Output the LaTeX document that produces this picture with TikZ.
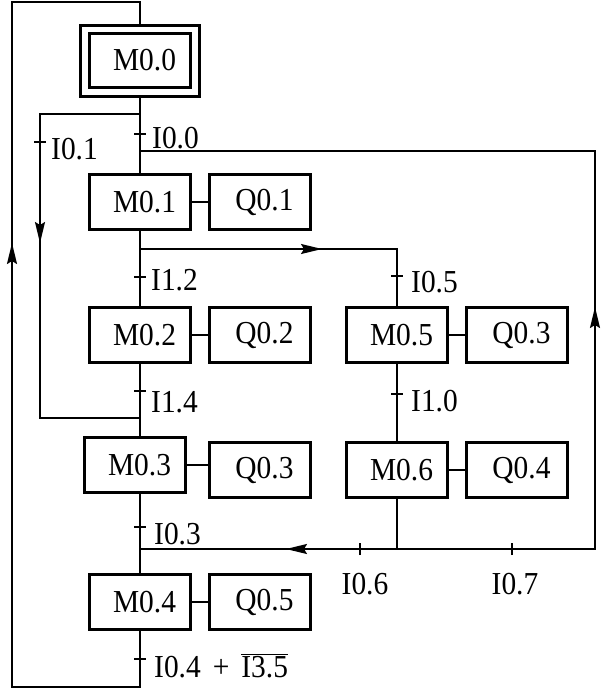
\documentclass[tikz,border=0pt]{standalone}
\usepackage{fontspec}
\setmainfont[FakeStretch=0.92]{Liberation Serif}
\usetikzlibrary{arrows.meta}
\begin{document}
\begin{tikzpicture}[x=1pt,y=-1pt,
  box/.style={draw,line width=3.2pt,minimum width=101pt,minimum height=55pt,inner sep=0pt,font=\fontsize{32}{33}\selectfont,execute at begin node=\hspace*{9pt}},
  wire/.style={line width=1.8pt},
  lbl/.style={inner sep=0pt,font=\fontsize{32}{33}\selectfont},
  arr/.style={line width=1.8pt,-{Stealth[length=21pt,width=10pt,inset=3pt]}},
  tk/.style={line width=1.8pt}
]
\useasboundingbox (0,0) rectangle (607,689);
% boxes
\node[box,minimum width=119pt,minimum height=71pt,execute at begin node={}] (M00o) at (140,61) {};
\node[box,minimum height=54pt] (M00) at (140,60.5) {M0.0};
\node[box] (M01) at (140,202) {M0.1};
\node[box] (Q01) at (260,202) {Q0.1};
\node[box] (M02) at (140,335) {M0.2};
\node[box] (Q02) at (260,335) {Q0.2};
\node[box] (M03) at (135,465) {M0.3};
\node[box] (Q03b) at (260,470) {Q0.3};
\node[box] (M04) at (140,602) {M0.4};
\node[box] (Q05) at (260,602) {Q0.5};
\node[box] (M05) at (397,335) {M0.5};
\node[box] (Q03a) at (517,335) {Q0.3};
\node[box] (M06) at (397,470) {M0.6};
\node[box] (Q04) at (517,470) {Q0.4};
% junction coordinates
\coordinate (top) at (140,2);
\coordinate (tl) at (12,2);
\coordinate (bl) at (12,687);
\coordinate (br) at (140,687);
\coordinate (j1) at (140,114);
\coordinate (il1) at (40,114);
\coordinate (il2) at (40,418);
\coordinate (j4) at (140,418);
\coordinate (j2) at (140,151);
\coordinate (r1) at (595,151);
\coordinate (r2) at (595,549);
\coordinate (j5) at (140,549);
\coordinate (j3) at (140,249);
\coordinate (b1) at (397,249);
% arrow coordinates
\coordinate (a1s) at (12,265);
\coordinate (a1e) at (12,243);
\coordinate (a2s) at (40,221);
\coordinate (a2e) at (40,243);
\coordinate (a3s) at (595,329);
\coordinate (a3e) at (595,307);
\coordinate (a4s) at (308,549);
\coordinate (a4e) at (286,549);
\coordinate (a5s) at (300,249);
\coordinate (a5e) at (322,249);
% outer loop
\draw[wire] (M00o.north) -- (top) -- (tl) -- (bl) -- (br) -- (M04.south);
% inner loop
\draw[wire] (j4) -- (il2) -- (il1) -- (j1);
% main line
\draw[wire] (M00o.south) -- (M01.north);
\draw[wire] (M01.south) -- (M02.north);
\draw[wire] (M02.south) -- (M02.south |- M03.north);
\draw[wire] (M02.south |- M03.south) -- (M04.north);
% right branch
\draw[wire] (j2) -- (r1) -- (r2) -- (j5);
\draw[wire] (M06.south) -- (M06.south |- j5);
\draw[wire] (j3) -- (b1) -- (M05.north);
\draw[wire] (M05.south) -- (M06.north);
% action connectors
\draw[wire] (M01) -- (Q01);
\draw[wire] (M02) -- (Q02);
\draw[wire] (M03.east) -- (M03.east -| Q03b.west);
\draw[wire] (M04) -- (Q05);
\draw[wire] (M05) -- (Q03a);
\draw[wire] (M06) -- (Q04);
% arrows
\draw[arr] (a1s) -- (a1e);
\draw[arr] (a2s) -- (a2e);
\draw[arr] (a3s) -- (a3e);
\draw[arr] (a4s) -- (a4e);
\draw[arr] (a5s) -- (a5e);
% ticks
\coordinate (t00) at (140,134);
\coordinate (t01) at (40,142);
\coordinate (t12) at (140,277);
\coordinate (t14) at (140,391);
\coordinate (t05) at (397,276);
\coordinate (t10) at (397,394);
\coordinate (t03) at (140,527);
\coordinate (t04) at (140,659);
\coordinate (t06) at (360,549);
\coordinate (t07) at (512,549);
\foreach \t in {t00,t01,t12,t14,t05,t10,t03,t04}
  \draw[tk] ([xshift=-6pt]\t) -- ([xshift=6pt]\t);
\foreach \t in {t06,t07}
  \draw[tk] ([yshift=-6pt]\t) -- ([yshift=6pt]\t);
% labels
\node[lbl,anchor=west] (l00) at (152,138) {I0.0};
\node[lbl,anchor=west] (l01) at (51,149) {I0.1};
\node[lbl,anchor=west] (l12) at (151,280) {I1.2};
\node[lbl,anchor=west] (l14) at (151,402) {I1.4};
\node[lbl,anchor=west] (l05) at (411,282) {I0.5};
\node[lbl,anchor=west] (l10) at (411,401) {I1.0};
\node[lbl,anchor=west] (l03) at (154,534) {I0.3};
\node[lbl,anchor=base west] (l04) at (154,677) {I0.4\hspace{12pt}+\hspace{12pt}\mbox{$\overline{\hbox{I3.5}}$}};
\node[lbl] (l06) at (365,584) {I0.6};
\node[lbl] (l07) at (515,584) {I0.7};
\end{tikzpicture}
\end{document}
